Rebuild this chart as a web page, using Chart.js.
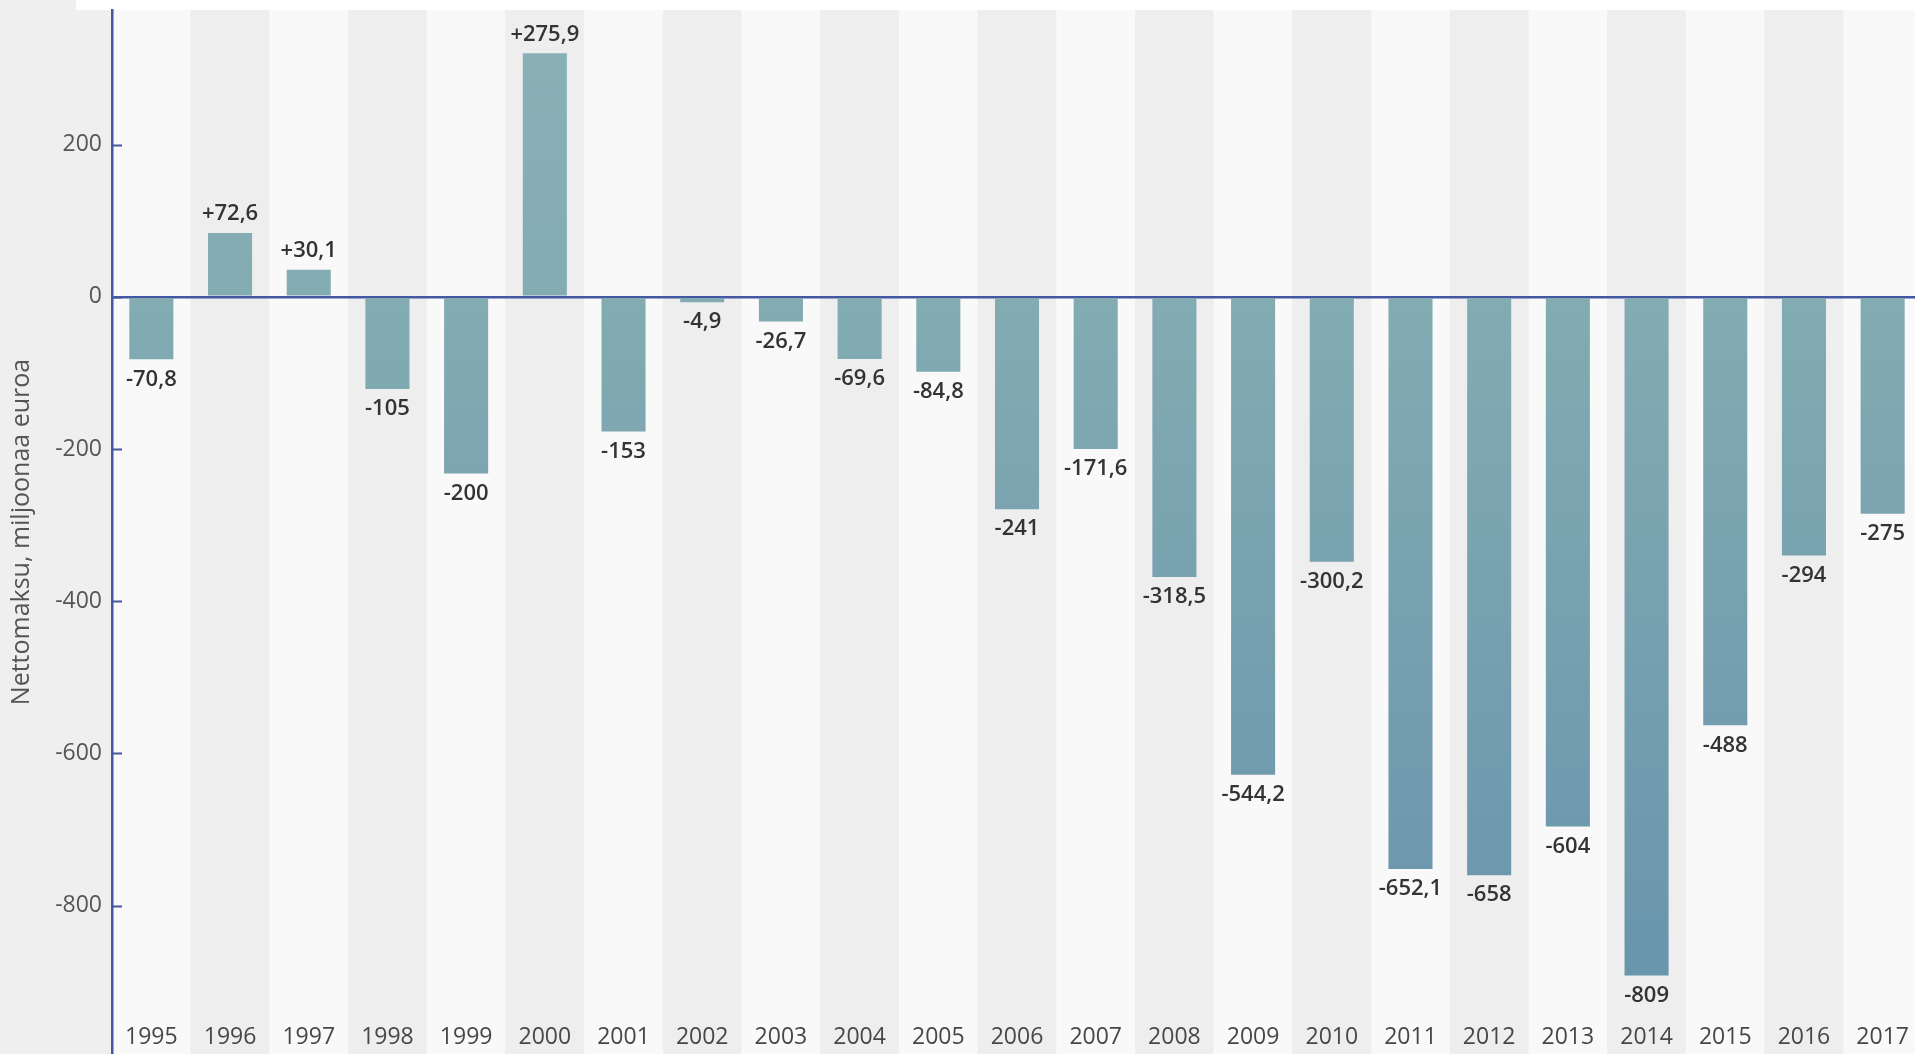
<!DOCTYPE html>
<html>
<head>
<meta charset="utf-8">
<script src="https://cdn.jsdelivr.net/npm/chart.js@4/dist/chart.umd.min.js"></script>
<style>
  html, body { margin: 0; padding: 0; background: #efefef; overflow: hidden; }
  #wrap { position: relative; width: 1922px; height: 1054px; }
  #strip { position: absolute; left: 76px; top: 0; width: 1846px; height: 10px; background: #ffffff; }
  canvas { position: absolute; left: 0; top: 0; }
</style>
</head>
<body>
<div id="wrap">
  <div id="strip"></div>
  <canvas id="main-chart"></canvas>
</div>
<script>
// years on the x axis
const years = ['1995', '1996', '1997', '1998', '1999', '2000', '2001', '2002', '2003', '2004', '2005', '2006',
  '2007', '2008', '2009', '2010', '2011', '2012', '2013', '2014', '2015', '2016', '2017'];

// bar heights as drawn against the axis of the picture
const barHeights = [-82, 84, 35.5, -121, -232, 320, -177, -7, -32.5, -81.5, -98.5, -279,
  -200, -368, -628, -348, -752, -760, -696, -892, -563, -340, -285];

// value labels printed on the bars
const valueLabels = ['-70,8', '+72,6', '+30,1', '-105', '-200', '+275,9', '-153', '-4,9', '-26,7', '-69,6', '-84,8', '-241',
  '-171,6', '-318,5', '-544,2', '-300,2', '-652,1', '-658', '-604', '-809', '-488', '-294', '-275'];

// y axis tick labels
const yTicks = [200, 0, -200, -400, -600, -800];

const AXIS_BLUE = '#4357a3';
const FONT = '"Open Sans", "Noto Sans", sans-serif';
const el = (id) => document.getElementById(id);

const backdrop = {
  id: 'backdrop',
  beforeDraw(chart) {
    const { ctx, chartArea, scales } = chart;
    const w = chartArea.width / years.length;
    ctx.save();
    years.forEach((y, i) => {
      const cx = scales.x.getPixelForValue(i);
      ctx.fillStyle = i % 2 === 0 ? '#f9f9f9' : '#eeeeee';
      ctx.fillRect(cx - w / 2, chartArea.top, w, chartArea.bottom - chartArea.top);
    });
    ctx.restore();
  },
  afterDraw(chart) {
    const { ctx, scales } = chart;
    ctx.save();
    // small tick marks inside the axis
    ctx.strokeStyle = AXIS_BLUE;
    ctx.lineWidth = 2;
    yTicks.forEach((v) => {
      const py = Math.round(scales.y.getPixelForValue(v)) + 0.5;
      ctx.beginPath();
      ctx.moveTo(chart.chartArea.left, py);
      ctx.lineTo(chart.chartArea.left + 10, py);
      ctx.stroke();
    });
    // value labels
    ctx.fillStyle = '#333333';
    ctx.font = '600 22px ' + FONT;
    ctx.textAlign = 'center';
    ctx.textBaseline = 'middle';
    const meta = chart.getDatasetMeta(0);
    meta.data.forEach((bar, i) => {
      const off = barHeights[i] >= 0 ? -19 : 20;
      ctx.fillText(valueLabels[i], bar.x, bar.y + off);
    });
    // year labels at the foot of each column
    ctx.fillStyle = '#474747';
    ctx.font = '23px ' + FONT;
    years.forEach((y, i) => {
      ctx.fillText(y, scales.x.getPixelForValue(i), 1037);
    });
    ctx.restore();
  }
};

new Chart(el('main-chart'), {
  type: 'bar',
  data: {
    labels: years,
    datasets: [{
      data: barHeights,
      backgroundColor: (c) => {
        const area = c.chart.chartArea;
        if (!area) {
          return '#7ea6b0';
        }
        const g = c.chart.ctx.createLinearGradient(0, area.top, 0, area.bottom);
        g.addColorStop(0, '#8ab1b6');
        g.addColorStop(0.28, '#83abb2');
        g.addColorStop(0.93, '#6995ad');
        g.addColorStop(1, '#6893ab');
        return g;
      },
      borderWidth: 0,
      barPercentage: 0.56,
      categoryPercentage: 1.0
    }]
  },
  options: {
    responsive: true,
    maintainAspectRatio: false,
    animation: false,
    layout: {
      padding: { top: 10, right: 0, bottom: 0, left: 0 }
    },
    plugins: {
      legend: { display: false },
      tooltip: { enabled: false }
    },
    scales: {
      x: {
        display: false,
        grid: { display: false }
      },
      y: {
        z: 1,
        min: -995,
        max: 377,
        afterBuildTicks: (scale) => {
          scale.ticks = yTicks.map((v) => ({ value: v }));
        },
        afterFit: (scale) => {
          scale.width = 112;
          scale.paddingTop = 0;
          scale.paddingBottom = 0;
        },
        border: {
          color: AXIS_BLUE,
          width: 2.5
        },
        grid: {
          drawTicks: false,
          lineWidth: (c) => (c.tick && c.tick.value === 0 ? 2.5 : 0),
          color: (c) => (c.tick && c.tick.value === 0 ? AXIS_BLUE : 'rgba(0,0,0,0)')
        },
        ticks: {
          padding: 10,
          color: '#555555',
          font: { family: FONT, size: 23 }
        },
        title: {
          display: true,
          text: 'Nettomaksu, miljoonaa euroa',
          color: '#555555',
          font: { family: FONT, size: 25 },
          padding: { top: 7, bottom: 0 }
        }
      }
    }
  },
  plugins: [backdrop]
});
</script>
</body>
</html>
